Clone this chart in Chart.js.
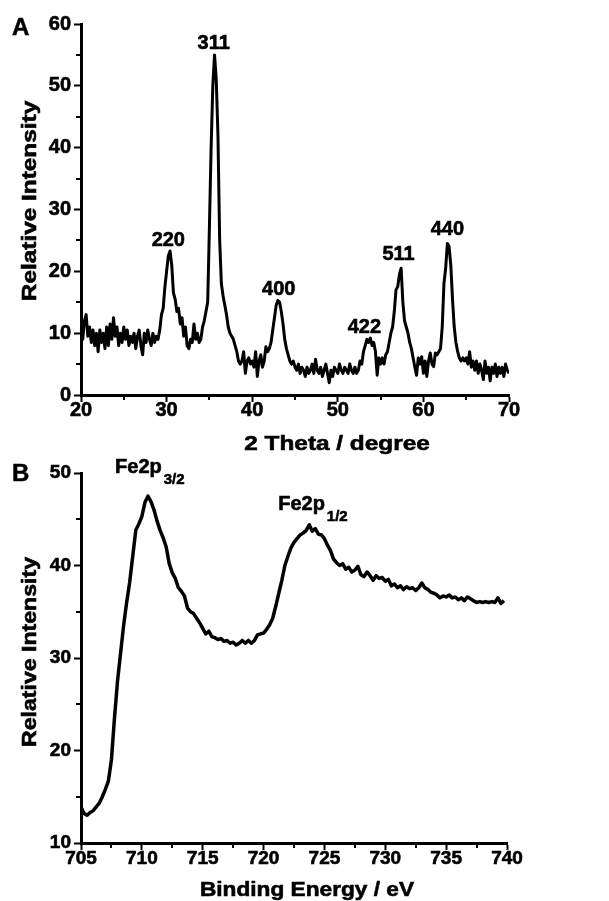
<!DOCTYPE html>
<html lang="en">
<head>
<meta charset="UTF-8">
<title>XRD pattern and Fe2p XPS spectrum</title>
<script src="https://cdn.jsdelivr.net/npm/chart.js"></script>
<style>
  body { margin: 0; background: #fff; width: 609px; height: 901px; position: relative; overflow: hidden;
         font-family: 'Liberation Sans', Arial, sans-serif; }
  canvas { position: absolute; left: 0; }
  #chartA { top: 0; }
  #chartB { top: 450px; }
  .panel { position: absolute; left: 12px; font-weight: bold; font-size: 24px; line-height: 1; color: #000;
           -webkit-text-stroke: 0.5px #000; }
</style>
</head>
<body>
<canvas id="chartA" width="609" height="458"></canvas>
<canvas id="chartB" width="609" height="451"></canvas>
<div class="panel" style="top: 15px">A</div>
<div class="panel" style="top: 461px">B</div>

<script>
// ---- panel A: XRD, sampled every 0.2 degree from 20 to 70 ----
const xrdStart = 20;
const xrdStep = 0.2;
const xrdIntensity = [
  10.5, 9, 12, 13, 9.5,      11, 8.5, 10.5, 8, 10,
  7, 10.5, 8.5, 10, 7.5,     11, 8, 11.5, 9, 12.5,
  9.5, 11, 8, 10, 8.5,       11, 9, 10.5, 8, 9.5,
  8.5, 10, 7.5, 9.5, 10.5,   8, 6.5, 10, 8.5, 10.5,
  9, 8, 10, 8.5, 9.5,        9, 10.5, 13, 14, 17.5,
  20, 22.5, 23.3, 21, 16.5,  15.5, 13.5, 14, 11.5, 12.5,
  9.5, 11, 8, 7.5, 9,        8.5, 11.5, 9, 10, 8.5,
  9, 11, 12, 13.5, 15,       27, 40, 50, 55, 51,
  42, 25, 18, 16, 14.5,      13, 11, 10, 9.5, 9,
  8, 7, 5.5, 5, 5.5,         7, 3.5, 5.5, 6, 5,
  5.5, 4.5, 7, 3, 5.5,       6.5, 4.5, 5.5, 7.8, 7,
  7.5, 8.5, 10.5, 12.5, 14.5, 15.3, 15, 13.5, 11.5, 9,
  7.5, 6.5, 5.5, 5, 5.5,     4.5, 4, 5, 3.5, 4.5,
  4, 3, 4.5, 3.5, 4,         5, 3.5, 5.8, 4, 3.5,
  4.5, 3, 4, 5, 3.5,         2, 4, 3, 4.5, 4,
  3.5, 5, 4, 3.5, 4.5,       4, 3.5, 5, 4, 3.5,
  4.5, 3.5, 4, 5.5, 5,       7, 8, 9, 8.5, 9.2,
  8, 8.5, 7, 3.2, 6,         5, 6, 5, 6.5, 7,
  8.5, 10, 11, 13.5, 17,     17.5, 19.5, 20.5, 15, 12,
  11, 10, 8.5, 7.5, 6,       4.5, 3.2, 6, 5, 6.2,
  3.5, 5.5, 3, 5.5, 6.8,     5, 4.6, 6.8, 6.5, 7,
  7.5, 11, 18, 20.5, 24.5,   24, 21, 15.5, 11, 8.5,
  7, 6, 5.5, 6, 5.5,         6, 5, 7, 4.5, 5.5,
  4, 5.5, 3.5, 5, 4,         2.5, 5.5, 3.5, 4.5, 2.3,
  4.5, 3.5, 5, 3, 4.5,       3.5, 4.5, 3, 5, 4,
  3.5
];
const xrdPeakLabels = ['220', '311', '400', '422', '511', '440'];
const xrdPeakX = [30.2, 35.5, 43.1, 53.1, 57.1, 62.8];
const xrdPeakY = [25.0, 56.8, 17.1, 10.9, 22.8, 26.7];
const xrdMinorX = [25, 35, 45, 55, 65];
const xrdMinorY = [5, 15, 25, 35, 45, 55];

// ---- panel B: XPS Fe2p, sampled every 0.25 eV from 705 ----
const xpsStart = 705;
const xpsStep = 0.25;
const xpsIntensity = [
  13.9, 13.2, 13.0, 13.3, 13.5, 13.9, 14.3, 15.0, 15.8, 16.7,
  19.0, 23.5, 27.5, 30.5, 33.5, 36.0, 38.2, 41.0, 43.8, 44.5,
  45.3, 46.8, 47.5, 46.9, 46.0, 44.8, 43.8, 43.0, 42.0, 40.2,
  39.2, 38.6, 37.6, 37.2, 36.7, 35.4, 35.0, 34.8, 34.3, 33.8,
  33.2, 32.6, 32.9, 32.3, 32.2, 32.0, 32.1, 31.8, 31.9, 31.6,
  31.7, 31.4, 31.6, 31.9, 31.6, 31.9, 31.6, 31.9, 32.5, 32.6,
  32.7, 33.1, 33.6, 34.3, 35.6, 37.0, 38.4, 40.0, 41.0, 41.9,
  42.5, 42.9, 43.3, 43.5, 43.8, 44.4, 43.7, 44.0, 43.4, 43.3,
  42.9, 42.2, 41.6, 40.7, 40.3, 40.0, 40.2, 39.6, 39.8, 39.3,
  39.5, 39.9, 39.0, 38.8, 39.3, 38.9, 38.4, 38.9, 38.6, 38.7,
  38.3, 38.5, 37.8, 38.0, 37.6, 37.8, 37.4, 37.7, 37.5, 37.6,
  37.3, 37.6, 38.1, 37.6, 37.4, 37.1, 37.0, 36.8, 36.5, 36.7,
  36.6, 36.8, 36.5, 36.6, 36.3, 36.5, 36.2, 36.6, 36.4, 36.2,
  36.0, 36.1, 36.0, 36.1, 36.0, 36.1, 36.0, 36.5, 35.9, 36.2
];
const xpsPeakMain = ['Fe2p', 'Fe2p'];
const xpsPeakSub = ['3/2', '1/2'];
const xpsPeakX = [707.8, 721.2];
const xpsPeakY = [50.0, 46.0];
const xpsMinorX = [707.5, 712.5, 717.5, 722.5, 727.5, 732.5, 737.5];
const xpsMinorY = [15, 25, 35, 45];

const FONT = "'Liberation Sans', Arial, sans-serif";
Chart.defaults.font.family = FONT;
Chart.defaults.font.weight = 'bold';
Chart.defaults.color = '#000';

// bold text with a hairline stroke, optionally stretched / rotated
function heavyText(ctx, text, x, y, size, opts) {
  opts = opts || {};
  ctx.save();
  ctx.translate(x, y);
  if (opts.rotate) ctx.rotate(-Math.PI / 2);
  if (opts.stretch) ctx.scale(opts.stretch, 1);
  ctx.font = 'bold ' + size + 'px ' + FONT;
  ctx.textAlign = opts.align || 'center';
  ctx.textBaseline = opts.baseline || 'middle';
  ctx.fillStyle = '#000';
  ctx.strokeStyle = '#000';
  ctx.lineWidth = 0.6;
  ctx.fillText(text, 0, 0);
  ctx.strokeText(text, 0, 0);
  const w = ctx.measureText(text).width;
  ctx.restore();
  return w;
}

// minor ticks, axis titles and peak annotations
const decorations = {
  id: 'decorations',
  afterDraw(chart, args, opts) {
    const ctx = chart.ctx;
    const xs = chart.scales.x, ys = chart.scales.y;
    ctx.save();
    ctx.strokeStyle = '#000';
    ctx.lineWidth = 2;
    ctx.beginPath();
    opts.minorX.forEach(v => {
      const px = Math.round(xs.getPixelForValue(v));
      ctx.moveTo(px, ys.bottom);
      ctx.lineTo(px, ys.bottom + 5);
    });
    opts.minorY.forEach(v => {
      const py = Math.round(ys.getPixelForValue(v));
      ctx.moveTo(xs.left - 5, py);
      ctx.lineTo(xs.left, py);
    });
    ctx.stroke();
    ctx.restore();

    const t = opts.titles;
    heavyText(ctx, t.x.text, t.x.cx, t.x.cy, t.size, { stretch: t.x.stretch });
    heavyText(ctx, t.y.text, t.y.cx, t.y.cy, t.size, { stretch: t.y.stretch, rotate: true });

    opts.labels.forEach(l => {
      const px = xs.getPixelForValue(l.x), py = ys.getPixelForValue(l.y);
      if (l.sub) {
        const w = heavyText(ctx, l.text, px, py, l.size, { align: 'left', baseline: 'alphabetic' });
        heavyText(ctx, l.sub, px + w + 2, py + 11, l.subSize, { align: 'left', baseline: 'alphabetic' });
      } else {
        heavyText(ctx, l.text, px, py, l.size);
      }
    });
  }
};

function axis(opts) {
  return {
    type: 'linear',
    min: opts.min,
    max: opts.max,
    afterFit: opts.fit,
    border: { display: true, color: '#000', width: 3 },
    grid: { drawOnChartArea: false, drawTicks: true, tickLength: 7, tickWidth: 2, tickColor: '#000' },
    ticks: {
      stepSize: opts.step, padding: opts.pad,
      textStrokeColor: '#000', textStrokeWidth: 0.6,
      font: { size: opts.tickSize, weight: 'bold', lineHeight: 1 }
    },
    title: { display: false }
  };
}

function makeChart(id, cfg) {
  return new Chart(document.getElementById(id), {
    type: 'line',
    data: {
      datasets: [{
        data: cfg.values.map((v, i) => ({ x: cfg.start + i * cfg.step, y: v })),
        borderColor: '#000',
        borderWidth: cfg.lineWidth,
        borderJoinStyle: 'round',
        pointRadius: 0,
        tension: 0,
        fill: false
      }]
    },
    options: {
      responsive: false,
      animation: false,
      layout: { padding: cfg.padding },
      plugins: {
        legend: { display: false },
        tooltip: { enabled: false },
        decorations: { minorX: cfg.minorX, minorY: cfg.minorY, labels: cfg.labels, titles: cfg.titles }
      },
      scales: { x: cfg.x, y: cfg.y }
    },
    plugins: [decorations]
  });
}

makeChart('chartA', {
  values: xrdIntensity, start: xrdStart, step: xrdStep, lineWidth: 3,
  padding: { left: 19.5, right: 100, top: 24, bottom: 3 },
  minorX: xrdMinorX, minorY: xrdMinorY,
  labels: xrdPeakLabels.map((t, i) => ({ text: t, x: xrdPeakX[i], y: xrdPeakY[i], size: 20 })),
  titles: {
    size: 21,
    x: { text: '2 Theta / degree', cx: 337, cy: 444, stretch: 1.16 },
    y: { text: 'Relative Intensity', cx: 30, cy: 201, stretch: 1.16 }
  },
  x: axis({ min: 20, max: 70, step: 10, pad: -2, tickSize: 20, fit: s => { s.height = 60; } }),
  y: axis({ min: 0, max: 60, step: 10, pad: 3, tickSize: 20, fit: s => { s.width = 61.5; } })
});

makeChart('chartB', {
  values: xpsIntensity, start: xpsStart, step: xpsStep, lineWidth: 3.5,
  padding: { left: 19.5, right: 102, top: 23, bottom: 0 },
  minorX: xpsMinorX, minorY: xpsMinorY,
  labels: xpsPeakMain.map((t, i) => ({ text: t, sub: xpsPeakSub[i], x: xpsPeakX[i], y: xpsPeakY[i], size: 20, subSize: 15 })),
  titles: {
    size: 21,
    x: { text: 'Binding Energy / eV', cx: 307, cy: 440, stretch: 1.08 },
    y: { text: 'Relative Intensity', cx: 30, cy: 202, stretch: 1.1 }
  },
  x: axis({ min: 705, max: 740, step: 5, pad: -1, tickSize: 19, fit: s => { s.height = 58; } }),
  y: axis({ min: 10, max: 50, step: 10, pad: 3, tickSize: 19, fit: s => { s.width = 61.5; } })
});
</script>
</body>
</html>
